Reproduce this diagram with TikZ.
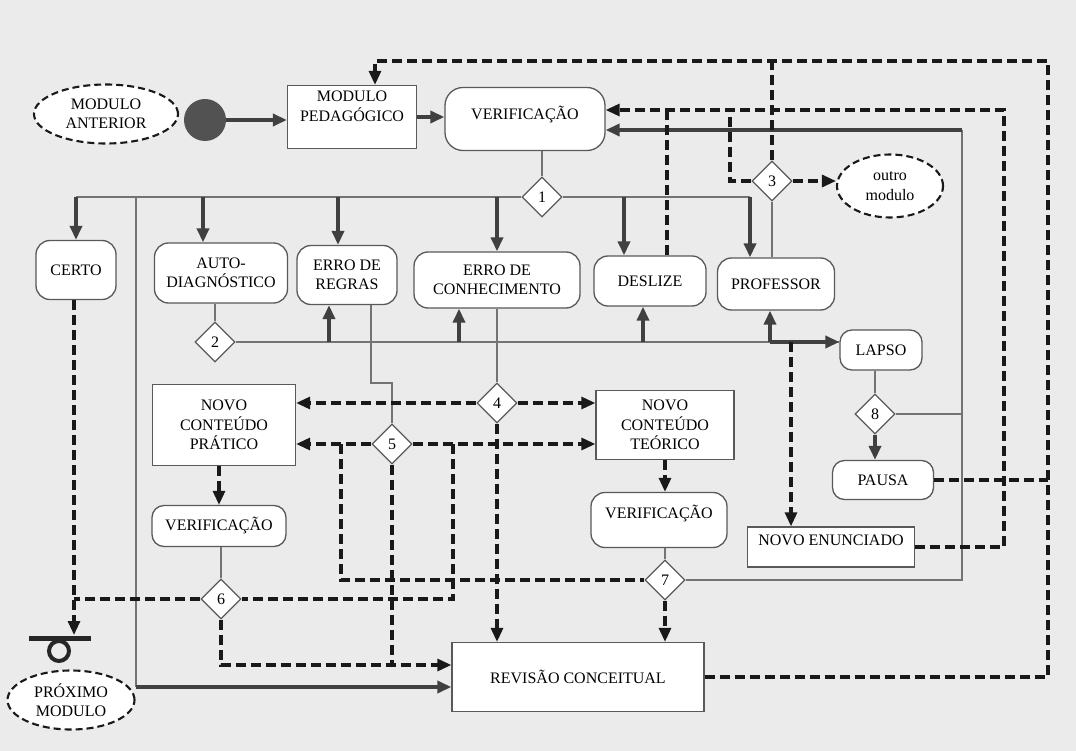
\documentclass[tikz,border=0pt]{standalone}
\usepackage{fontspec}
\setmainfont{Liberation Serif}
\usepackage {tikz}
\usetikzlibrary {positioning}
\usetikzlibrary{shapes.geometric}
\usetikzlibrary{calc}
\usetikzlibrary{arrows.meta}
\tikzset{
    modbox/.style = {rectangle,draw=black!65,line width=1.3pt,fill=white,inner sep=2pt,align=center},
    roundbox/.style = {modbox,rounded corners=14pt},
    extmod/.style = {ellipse,draw=black!90,line width=2.1pt,dash pattern=on 7pt off 4pt,fill=white,align=center,inner sep=0pt},
    decision/.style = {diamond,draw=black!65,line width=1.3pt,fill=white,inner sep=0pt,minimum width=40pt,minimum height=40pt},
    startdot/.style = {circle,fill=black!68,inner sep=0pt,minimum size=42pt},
    flow/.style = {line width=3.6pt,draw=black!75,-{Triangle[length=14pt,width=12pt]}},
    thinline/.style = {line width=1.6pt,draw=black!55},
    dashline/.style = {line width=3.1pt,draw=black!90,dash pattern=on 10pt off 5pt},
    dashflow/.style = {dashline,-{Triangle[length=14pt,width=12pt]}}}
\begin{document}
\begin{tikzpicture}[x=1pt,y=-1pt,font=\fontsize{16}{19.5}\selectfont]
        \fill[black!8] (0,0) rectangle (1076,751);
        \useasboundingbox (0,0) rectangle (1076,751);
        \path (106,114) node[extmod,minimum width=144pt,minimum height=59pt] (ant) {MODULO\\ANTERIOR}
        (205,120) node[startdot] (start) {}
        (352,117) node[modbox,minimum width=129pt,minimum height=63pt,text depth=22pt] (mp) {MODULO\\PEDAGÓGICO}
        (525,119) node[roundbox,minimum width=160pt,minimum height=63pt,rounded corners=18pt,text depth=12pt] (ver1) {VERIFICAÇÃO}
        (542,197) node[decision] (d1) {1}
        (772,181) node[decision] (d3) {3}
        (890,186) node[extmod,minimum width=106pt,minimum height=63pt] (omod) {outro\\modulo}
        (76,270) node[roundbox,minimum width=80pt,minimum height=59pt] (certo) {CERTO}
        (221,273) node[roundbox,minimum width=133pt,minimum height=60pt] (auto) {AUTO-\\DIAGNÓSTICO}
        (347,275) node[roundbox,minimum width=100pt,minimum height=59pt] (regras) {ERRO DE\\REGRAS}
        (497,280) node[roundbox,minimum width=166pt,minimum height=56pt] (conh) {ERRO DE\\CONHECIMENTO}
        (650,281) node[roundbox,minimum width=112pt,minimum height=50pt] (desl) {DESLIZE}
        (776,284) node[roundbox,minimum width=117pt,minimum height=52pt] (prof) {PROFESSOR}
        (215,342) node[decision] (d2) {2}
        (881,350) node[roundbox,minimum width=82pt,minimum height=40pt,rounded corners=12pt] (lapso) {LAPSO}
        (224,425) node[modbox,minimum width=143pt,minimum height=81pt] (ncp) {NOVO\\CONTEÚDO\\PRÁTICO}
        (497,403) node[decision] (d4) {4}
        (665,425) node[modbox,minimum width=138pt,minimum height=69pt] (nct) {NOVO\\CONTEÚDO\\TEÓRICO}
        (392,444) node[decision] (d5) {5}
        (875,414) node[decision] (d8) {8}
        (883,480) node[roundbox,minimum width=101pt,minimum height=39pt,rounded corners=12pt] (pausa) {PAUSA}
        (219,526) node[roundbox,minimum width=134pt,minimum height=41pt,rounded corners=12pt] (ver2) {VERIFICAÇÃO}
        (659,520) node[roundbox,minimum width=136pt,minimum height=55pt,text depth=16pt] (ver3) {VERIFICAÇÃO}
        (831,547) node[modbox,minimum width=167pt,minimum height=40pt,text depth=14pt] (nenun) {NOVO ENUNCIADO}
        (221,599) node[decision] (d6) {6}
        (665,580) node[decision] (d7) {7}
        (578,677) node[modbox,minimum width=252pt,minimum height=69pt] (rev) {REVISÃO CONCEITUAL}
        (71,700) node[extmod,minimum width=127pt,minimum height=59pt] (prox) {PRÓXIMO\\MODULO};
        % saida do modulo
        \draw[line width=5pt,black!85] (29,638) -- (91,638);
        \draw[line width=4pt,black!85] (59,651) circle (10pt);
        \coordinate (fim) at (74,635);
        \coordinate (bauto) at ([xshift=-18pt]auto.north);
        \coordinate (bregras) at ([xshift=-9pt]regras.north);
        \coordinate (bdesl) at ([xshift=-26pt]desl.north);
        \coordinate (bprof) at ([xshift=-26pt]prof.north);
        \coordinate (uregras) at ([xshift=-18pt]regras.south);
        \coordinate (uconh) at ([xshift=-38pt]conh.south);
        \coordinate (udesl) at ([xshift=-7pt]desl.south);
        \coordinate (uprof) at ([xshift=-6pt]prof.south);
        \coordinate (unenun) at ([xshift=-40pt]nenun.north);
        \coordinate (ddesl) at ([xshift=17pt]desl.north);
        \coordinate (bend) at (136,687);
        \coordinate (jrev) at ([yshift=12pt]rev.west);
        \coordinate (r5) at (371,383);
        \coordinate (v5a) at (341,580);
        \coordinate (v5b) at (453,599);
        \coordinate (loop) at (962,130);
        \coordinate (inner) at (1004,110);
        \coordinate (k3) at (730,110);
        \coordinate (top) at (1048,61);
        \coordinate (topmp) at ([xshift=23pt]mp.north);
        \draw[flow] (start) -- (start -| mp.west);
        \draw[flow] (mp.east) -- (mp.east -| ver1.west);
        \draw[thinline] (d1.north |- ver1.south) -- (d1.north);
        \draw[thinline] (d1.west) -- (d1.west -| certo.north) (d1.east) -- (d1.east -| bprof);
        \draw[thinline] (d1.west -| bend) -- (bend);
        \draw[flow] (bend) -- (bend -| rev.west);
        \foreach \p in {certo.north,bauto,bregras,conh.north} \draw[flow] (d1.west -| \p) -- (\p);
        \foreach \p in {bdesl,bprof} \draw[flow] (d1.east -| \p) -- (\p);
        \draw[thinline] (d2.north |- auto.south) -- (d2.north);
        \draw[thinline] (d2.east) -- (d2.east -| lapso.west);
        \foreach \p in {uregras,uconh,udesl,uprof} \draw[flow] (d2.east -| \p) -- (\p);
        \draw[flow] (d2.east -| uprof) -- (d2.east -| lapso.west);
        \draw[dashflow] (d2.east -| unenun) -- (unenun);
        \draw[thinline] (regras.south -| r5) -- (r5) -| (d5.north);
        \draw[thinline] (d4.north |- conh.south) -- (d4.north);
        \draw[dashflow] (d4.west) -- (d4.west -| ncp.east);
        \draw[dashflow] (d4.east) -- (d4.east -| nct.west);
        \draw[dashflow] (d5.west) -- (d5.west -| ncp.east);
        \draw[dashflow] (d5.east) -- (d5.east -| nct.west);
        \draw[dashline] (d5.west -| v5a) |- (d7.west);
        \draw[dashline] (d5.east -| v5b) |- (d6.east);
        \draw[dashline] (d5.south) -- (d5.south |- jrev);
        \draw[dashflow] (d4.south) -- (d4.south |- rev.north);
        \draw[dashflow] (d6.south) |- (jrev);
        \draw[dashline] (d6.west) -- (d6.west -| fim);
        \draw[dashflow] (certo.south -| fim) -- (fim);
        \draw[dashflow] (ver2.north |- ncp.south) -- (ver2.north);
        \draw[thinline] (d6.north |- ver2.south) -- (d6.north);
        \draw[dashflow] (nct.south) -- (nct.south |- ver3.north);
        \draw[thinline] (d7.north |- ver3.south) -- (d7.north);
        \draw[dashflow] (d7.south) -- (d7.south |- rev.north);
        \draw[thinline] (d7.east) -| (loop) (d8.east) -- (d8.east -| loop);
        \draw[flow] (loop) -- (loop -| ver1.east);
        \draw[thinline] (d8.north |- lapso.south) -- (d8.north);
        \draw[flow] (d8.south) -- (d8.south |- pausa.north);
        \draw[thinline] (d3.south) -- (d3.south |- prof.north);
        \draw[dashflow] (d3.east) -- (d3.east -| omod.west);
        \draw[dashline] (d3.north) -- (d3.north |- top);
        \draw[dashline] (d3.west) -| (k3);
        \draw[dashline] (ddesl) -- (ddesl |- inner);
        \draw[dashflow] (nenun.east) -| (inner) -- (inner -| ver1.east);
        \draw[dashflow] (rev.east) -| (top) -- (top -| topmp) -- (topmp);
        \draw[dashline] (pausa.east) -- (pausa.east -| top);
    \end{tikzpicture}
\end{document}
